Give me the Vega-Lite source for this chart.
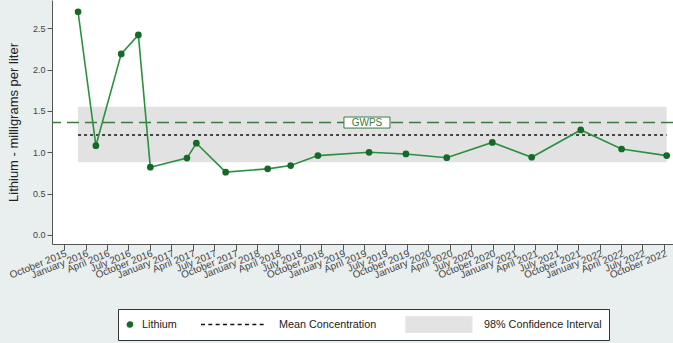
{
  "$schema": "https://vega.github.io/schema/vega-lite/v6.json",
  "width": 621,
  "height": 244,
  "autosize": "none",
  "padding": {"left": 52, "top": 0, "right": 0, "bottom": 99},
  "background": "#e9eeef",
  "config": {
    "view": {"fill": "white", "stroke": null},
    "font": "Liberation Sans",
    "axis": {"domainColor": "#555", "tickColor": "#555", "labelColor": "#444", "labelFont": "Liberation Sans", "titleFont": "Liberation Sans", "grid": false}
  },
  "datasets": {
    "lithium": [
      {"date": "2015-11-30", "value": 2.70, "series": "Lithium"},
      {"date": "2016-02-14", "value": 1.08, "series": "Lithium"},
      {"date": "2016-06-01", "value": 2.19, "series": "Lithium"},
      {"date": "2016-08-13", "value": 2.42, "series": "Lithium"},
      {"date": "2016-10-03", "value": 0.82, "series": "Lithium"},
      {"date": "2017-03-08", "value": 0.93, "series": "Lithium"},
      {"date": "2017-04-17", "value": 1.11, "series": "Lithium"},
      {"date": "2017-08-20", "value": 0.76, "series": "Lithium"},
      {"date": "2018-02-15", "value": 0.80, "series": "Lithium"},
      {"date": "2018-05-24", "value": 0.84, "series": "Lithium"},
      {"date": "2018-09-17", "value": 0.96, "series": "Lithium"},
      {"date": "2019-04-23", "value": 1.00, "series": "Lithium"},
      {"date": "2019-09-27", "value": 0.98, "series": "Lithium"},
      {"date": "2020-03-19", "value": 0.935, "series": "Lithium"},
      {"date": "2020-09-29", "value": 1.12, "series": "Lithium"},
      {"date": "2021-03-16", "value": 0.94, "series": "Lithium"},
      {"date": "2021-10-11", "value": 1.27, "series": "Lithium"},
      {"date": "2022-04-03", "value": 1.04, "series": "Lithium"},
      {"date": "2022-10-12", "value": 0.96, "series": "Lithium"}
    ],
    "band": [{"start": "2015-11-30", "end": "2022-10-12", "lo": 0.88, "hi": 1.55, "mean": 1.21}],
    "gwps": [{"date": "2019-04-14", "value": 1.36, "label": "GWPS"}]
  },
  "layer": [
    {
      "data": {"name": "band"},
      "mark": {"type": "rect", "color": "#e2e2e2"},
      "encoding": {
        "x": {"field": "start", "type": "temporal",
          "scale": {"domain": [{"year": 2015, "month": 8, "date": 11}, {"year": 2022, "month": 11, "date": 8}], "nice": false},
          "axis": {"title": null, "format": "%B %Y", "tickCount": {"interval": "month", "step": 3}, "labelAngle": -22, "labelAlign": "right", "labelBaseline": "top", "labelFontSize": 10, "tickSize": 6, "labelPadding": -2, "labelOverlap": false, "labelBound": false, "labelFlush": false}},
        "x2": {"field": "end"},
        "y": {"field": "lo", "type": "quantitative",
          "scale": {"domain": [-0.109, 2.842], "nice": false, "zero": false},
          "axis": {"title": "Lithium - milligrams per liter", "values": [0, 0.5, 1, 1.5, 2, 2.5], "format": ".1f", "labelFontSize": 9, "tickSize": 5, "labelPadding": 2, "titleFontSize": 13, "titleFontWeight": "normal", "titleColor": "#222", "titlePadding": 12}},
        "y2": {"field": "hi"}
      }
    },
    {
      "data": {"name": "band"},
      "mark": {"type": "rule", "color": "#111", "strokeDash": [3, 3], "strokeWidth": 1.5},
      "encoding": {
        "x": {"field": "start", "type": "temporal"},
        "x2": {"field": "end"},
        "y": {"field": "mean", "type": "quantitative"}
      }
    },
    {
      "data": {"name": "gwps"},
      "mark": {"type": "rule", "color": "#3c7a45", "strokeDash": [12, 6], "strokeWidth": 1.5},
      "encoding": {
        "y": {"field": "value", "type": "quantitative"}
      }
    },
    {
      "data": {"name": "gwps"},
      "mark": {"type": "point", "shape": "M-1,-0.24H1V0.24H-1Z", "size": 2116, "filled": true, "fill": "white", "stroke": "#3c7a45", "strokeWidth": 1, "opacity": 1},
      "encoding": {
        "x": {"field": "date", "type": "temporal"},
        "y": {"field": "value", "type": "quantitative"}
      }
    },
    {
      "data": {"name": "gwps"},
      "mark": {"type": "text", "color": "#3c7a45", "fontSize": 10},
      "encoding": {
        "x": {"field": "date", "type": "temporal"},
        "y": {"field": "value", "type": "quantitative"},
        "text": {"field": "label"}
      }
    },
    {
      "data": {"name": "lithium"},
      "mark": {"type": "line", "color": "#2a9140", "strokeWidth": 1.6},
      "encoding": {
        "x": {"field": "date", "type": "temporal"},
        "y": {"field": "value", "type": "quantitative"}
      }
    },
    {
      "data": {"name": "lithium"},
      "mark": {"type": "point", "filled": true, "size": 45, "opacity": 1},
      "encoding": {
        "x": {"field": "date", "type": "temporal"},
        "y": {"field": "value", "type": "quantitative"},
        "color": {"field": "series", "type": "nominal",
          "scale": {"domain": ["Lithium", "Mean Concentration", "98% Confidence Interval"], "range": ["#17692a", "#000000", "#e3e3e3"]},
          "legend": {
            "title": null, "orient": "none", "legendX": 66, "legendY": 309, "direction": "horizontal",
            "strokeColor": "#333", "fillColor": "white", "padding": 7,
            "columnPadding": 23, "gridAlign": "none", "clipHeight": 17,
            "symbolSize": 36, "labelFontSize": 10.8, "labelColor": "#222", "labelOffset": 11,
            "encoding": {
              "symbols": {
                "shape": {"value": {"expr": "datum.value === 'Lithium' ? 'M-0.8,0A0.08,0.08 0 1,1 -0.96,0A0.08,0.08 0 1,1 -0.8,0Z' : datum.value === 'Mean Concentration' ? 'M-1,0H-0.88M-0.778,0H-0.658M-0.556,0H-0.436M-0.333,0H-0.213M-0.111,0H0.009M0.111,0H0.231M0.333,0H0.453M0.556,0H0.676M0.778,0H0.898' : 'M-0.85,-0.25H1.15V0.25H-0.85Z'"}},
                "size": {"value": 4356},
                "fill": {"value": {"expr": "datum.value === 'Lithium' ? '#17692a' : datum.value === 'Mean Concentration' ? 'transparent' : '#e6e6e6'"}},
                "stroke": {"value": {"expr": "datum.value === 'Lithium' ? '#17692a' : datum.value === 'Mean Concentration' ? '#111' : '#e6e6e6'"}},
                "strokeWidth": {"value": 1.3},
                "opacity": {"value": 1}
              },
              "labels": {
                "dx": {"value": {"expr": "datum.value === 'Lithium' ? -62 : datum.value === 'Mean Concentration' ? 0 : 5"}}
              }
            }
          }
        }
      }
    }
  ]
}
